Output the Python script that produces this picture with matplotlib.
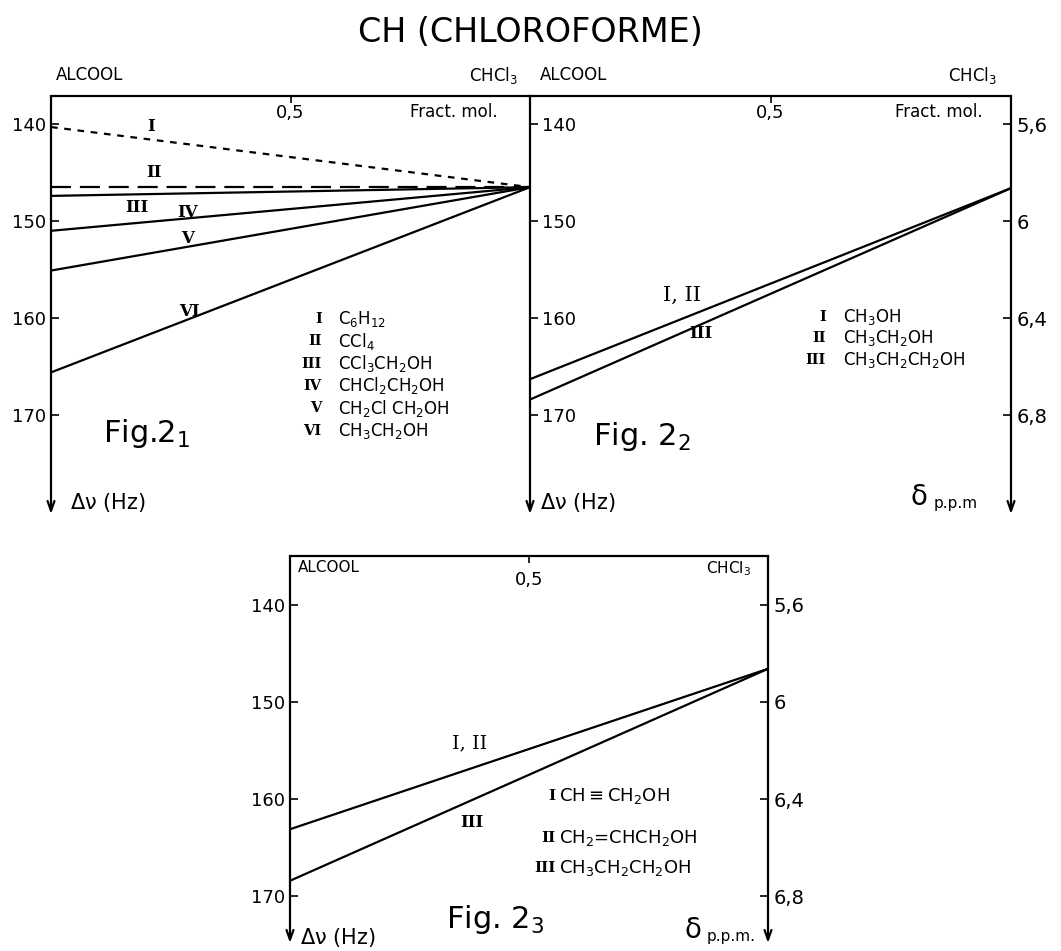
import matplotlib
matplotlib.use("Agg")
import matplotlib.pyplot as plt

plt.rcParams['font.family'] = ['DejaVu Sans']
plt.rcParams['mathtext.default'] = 'regular'

# mole fraction of CHCl3 : 0 = pure alcool, 1 = pure CHCl3
frac = [0.0, 1.0]

# Fig 2_1 : shift (Hz) at frac=0 and frac=1
fig1_labels = ['I', 'II', 'III', 'IV', 'V', 'VI']
fig1_start = [140.3, 146.5, 147.4, 151.0, 155.1, 165.6]
fig1_end = [146.5, 146.5, 146.5, 146.5, 146.5, 146.5]
fig1_names = [r'C$_6$H$_{12}$', r'CCl$_4$', r'CCl$_3$CH$_2$OH', r'CHCl$_2$CH$_2$OH',
              r'CH$_2$Cl CH$_2$OH', r'CH$_3$CH$_2$OH']

# Fig 2_2
fig2_labels = ['I, II', 'III']
fig2_start = [166.3, 168.4]
fig2_end = [146.6, 146.6]
fig2_names = [r'CH$_3$OH', r'CH$_3$CH$_2$OH', r'CH$_3$CH$_2$CH$_2$OH']

# Fig 2_3
fig3_labels = ['I, II', 'III']
fig3_start = [163.1, 168.4]
fig3_end = [146.6, 146.6]
fig3_names = [r'CH$\equiv$CH$_2$OH', r'CH$_2$=CHCH$_2$OH', r'CH$_3$CH$_2$CH$_2$OH']

hz_ticks = [140, 150, 160, 170]
ppm_ticks = [5.6, 6.0, 6.4, 6.8]
ppm_labels = ['5,6', '6', '6,4', '6,8']
roman = ['I', 'II', 'III', 'IV', 'V', 'VI']

W, H = 1061, 951
fig = plt.figure(figsize=(W / 100, H / 100), dpi=100)
fig.patch.set_facecolor('white')

lw = 1.6
fs_tick = 13
fs_leg = 12


def frame(ax, ylo, yhi, left_arrow=True, right_arrow=False):
    ax.set_xlim(0, 1)
    ax.set_ylim(yhi, ylo)
    for s in ['bottom', 'left', 'right']:
        ax.spines[s].set_visible(False)
    ax.spines['top'].set_linewidth(1.6)
    ax.xaxis.tick_top()
    ax.set_xticks([0.5])
    ax.set_xticklabels(['0,5'])
    ax.tick_params(axis='x', direction='in', length=5, width=1.2, pad=-19, labelsize=fs_tick)
    ax.set_yticks(hz_ticks)
    ax.tick_params(axis='y', direction='in', length=6, width=1.2, labelsize=fs_tick)
    arrow = dict(arrowstyle='->,head_length=0.7,head_width=0.25', lw=1.6, color='black',
                 shrinkA=0, shrinkB=0)
    if left_arrow:
        ax.annotate('', xy=(0, 0), xytext=(0, 1), xycoords='axes fraction',
                    arrowprops=arrow, annotation_clip=False)
    if right_arrow:
        ax.annotate('', xy=(1, 0), xytext=(1, 1), xycoords='axes fraction',
                    arrowprops=arrow, annotation_clip=False)


def add_ppm(ax):
    sec = ax.secondary_yaxis('right', functions=(lambda h: 5.6 + (h - 140) * 0.04,
                                                 lambda d: 140 + (d - 5.6) / 0.04))
    sec.set_yticks(ppm_ticks)
    sec.set_yticklabels(ppm_labels)
    sec.tick_params(direction='in', length=6, width=1.2, labelsize=fs_tick + 1, pad=4)
    sec.spines['right'].set_visible(False)
    return sec


def delta_label(ax, x, y, text):
    # big delta followed by small "p.p.m"
    t = ax.text(x, y, text, fontsize=11, ha='right', va='baseline')
    ax.annotate(r'$\delta$', xy=(0, 0), xycoords=t, xytext=(-4, 0),
                textcoords='offset points', fontsize=20, ha='right', va='bottom')


# ---------------- Fig 2_1 ----------------
ax1 = fig.add_axes([51 / W, 1 - 514 / H, 479 / W, 418 / H])
frame(ax1, 137.1, 180.2)
ax1.set_yticklabels([str(t) for t in hz_ticks])
styles = [(0, (3, 3)), (0, (9, 4)), '-', '-', '-', '-']
for s, e, st in zip(fig1_start, fig1_end, styles):
    ax1.plot(frac, [s, e], color='black', lw=lw, linestyle=st, solid_capstyle='butt')

lab_pos = [(0.21, 140.2), (0.215, 145.0), (0.18, 148.6), (0.285, 149.1), (0.285, 151.8), (0.29, 159.3)]
for lab, (x, y) in zip(fig1_labels, lab_pos):
    ax1.text(x, y, lab, family='DejaVu Serif', fontweight='bold', fontsize=12,
             ha='center', va='center')
for i, name in enumerate(fig1_names):
    y = 160.1 + i * 2.3
    ax1.text(0.565, y, roman[i], family='DejaVu Serif', fontweight='bold', fontsize=10.5,
             ha='right', va='center')
    ax1.text(0.60, y, name, fontsize=fs_leg, ha='left', va='center')
ax1.text(0.2, 171.9, r'Fig.2$_1$', fontsize=22, ha='center', va='center')
ax1.text(0.04, 179.0, r'$\Delta\nu$ (Hz)', fontsize=15, ha='left', va='center')
ax1.text(0.84, 138.8, 'Fract. mol.', fontsize=12, ha='center', va='center')
ax1.text(0.01, 1.05, 'ALCOOL', transform=ax1.transAxes, fontsize=12, ha='left', va='center')
ax1.text(0.975, 1.05, r'CHCl$_3$', transform=ax1.transAxes, fontsize=12, ha='right', va='center')

# ---------------- Fig 2_2 ----------------
ax2 = fig.add_axes([530 / W, 1 - 514 / H, 481 / W, 418 / H])
frame(ax2, 137.1, 180.2, right_arrow=True)
ax2.set_yticklabels([str(t) for t in hz_ticks])
ax2.tick_params(axis='y', pad=-9)
for t in ax2.get_yticklabels():
    t.set_horizontalalignment('left')
add_ppm(ax2)
for s, e in zip(fig2_start, fig2_end):
    ax2.plot(frac, [s, e], color='black', lw=lw)
ax2.text(0.316, 157.7, 'I, II', family='DejaVu Serif', fontsize=15, ha='center', va='center')
ax2.text(0.355, 161.6, 'III', family='DejaVu Serif', fontweight='bold', fontsize=12,
         ha='center', va='center')
for i, name in enumerate(fig2_names):
    y = 159.9 + i * 2.2
    ax2.text(0.615, y, roman[i], family='DejaVu Serif', fontweight='bold', fontsize=10.5,
             ha='right', va='center')
    ax2.text(0.65, y, name, fontsize=fs_leg, ha='left', va='center')
ax2.text(0.233, 172.2, r'Fig. 2$_2$', fontsize=22, ha='center', va='center')
ax2.text(0.02, 179.0, r'$\Delta\nu$ (Hz)', fontsize=15, ha='left', va='center')
delta_label(ax2, 0.93, 179.6, 'p.p.m')
ax2.text(0.85, 138.8, 'Fract. mol.', fontsize=12, ha='center', va='center')
ax2.text(0.02, 1.05, 'ALCOOL', transform=ax2.transAxes, fontsize=12, ha='left', va='center')
ax2.text(0.97, 1.05, r'CHCl$_3$', transform=ax2.transAxes, fontsize=12, ha='right', va='center')

# ---------------- Fig 2_3 ----------------
ax3 = fig.add_axes([290 / W, 1 - 943 / H, 478 / W, 387 / H])
frame(ax3, 135.0, 174.8, right_arrow=True)
ax3.set_yticklabels([str(t) for t in hz_ticks])
ax3.tick_params(axis='x', pad=-24)
add_ppm(ax3)
for s, e in zip(fig3_start, fig3_end):
    ax3.plot(frac, [s, e], color='black', lw=lw)
ax3.text(0.375, 154.3, 'I, II', family='DejaVu Serif', fontsize=14, ha='center', va='center')
ax3.text(0.38, 162.4, 'III', family='DejaVu Serif', fontweight='bold', fontsize=12,
         ha='center', va='center')
leg3_pos = [(0.555, 159.7), (0.555, 164.0), (0.555, 167.1)]
for i, (name, (x, y)) in enumerate(zip(fig3_names, leg3_pos)):
    ax3.text(x, y, roman[i], family='DejaVu Serif', fontweight='bold', fontsize=11,
             ha='right', va='center')
    ax3.text(x + 0.008, y, name, fontsize=fs_leg + 1, ha='left', va='center')
ax3.text(0.43, 172.4, r'Fig. 2$_3$', fontsize=22, ha='center', va='center')
ax3.text(0.02, 174.2, r'$\Delta\nu$ (Hz)', fontsize=15, ha='left', va='center')
delta_label(ax3, 0.975, 174.6, 'p.p.m.')
ax3.text(0.017, 136.2, 'ALCOOL', fontsize=11, ha='left', va='center')
ax3.text(0.965, 136.3, r'CHCl$_3$', fontsize=11, ha='right', va='center')

fig.text(0.5, 1 - 33 / H, 'CH (CHLOROFORME)', fontsize=24, ha='center', va='center')

fig.savefig('out.png', dpi=100)
